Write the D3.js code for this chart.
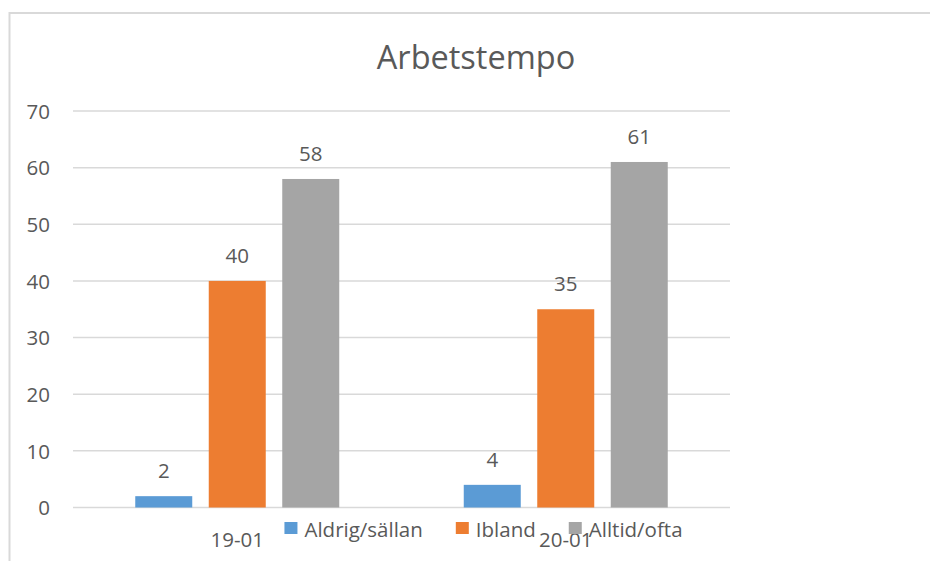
<!DOCTYPE html>
<html>
<head>
<meta charset="utf-8">
<script src="https://cdn.jsdelivr.net/npm/d3@7"></script>
<style>
  html, body { margin: 0; padding: 0; background: #fff; }
  svg { display: block; font-family: "Open Sans", "Noto Sans", sans-serif; }
</style>
</head>
<body>
<svg id="chart" width="930" height="561"></svg>
<script>
// Data
const categories = ["19-01", "20-01"];
const seriesNames = ["Aldrig/sällan", "Ibland", "Alltid/ofta"];
const aldrigSallan = [2, 4];
const ibland = [40, 35];
const alltidOfta = [58, 61];
const yTicks = [0, 10, 20, 30, 40, 50, 60, 70];
const chartTitle = "Arbetstempo";

const seriesValues = [aldrigSallan, ibland, alltidOfta];
const colors = ["#5B9BD5", "#ED7D31", "#A5A5A5"];
const textColor = "#595959";
const gridColor = "#D9D9D9";
const labelSize = 20.5;

const svg = d3.select("#chart");

// Chart frame (left and top edges visible)
svg.append("path")
  .attr("d", "M9.5,561 V13 H930")
  .attr("fill", "none")
  .attr("stroke", gridColor)
  .attr("stroke-width", 2);

// Plot area
const plot = { left: 73, right: 730, top: 111, bottom: 507.5 };

const y = d3.scaleLinear().domain([0, 70]).range([plot.bottom, plot.top]);
const x0 = d3.scaleBand().domain(categories).range([plot.left, plot.right]).padding(0);
const x1 = d3.scaleBand().domain(seriesNames).range([0, x0.bandwidth()])
  .paddingInner(0.2245).paddingOuter(0.847);

// Title
svg.append("text")
  .attr("x", 476)
  .attr("y", 69)
  .attr("text-anchor", "middle")
  .attr("fill", textColor)
  .attr("font-size", 32.5)
  .text(chartTitle);

// Gridlines
svg.append("g")
  .selectAll("line")
  .data(yTicks)
  .join("line")
  .attr("x1", plot.left)
  .attr("x2", plot.right)
  .attr("y1", d => y(d))
  .attr("y2", d => y(d))
  .attr("stroke", gridColor)
  .attr("stroke-width", 1.5);

// Y axis labels
const yAxis = d3.axisLeft(y).tickValues(yTicks).tickSize(0).tickPadding(0);
const yg = svg.append("g")
  .attr("transform", `translate(50,0)`)
  .call(yAxis);
yg.select(".domain").remove();
yg.selectAll("text")
  .attr("fill", textColor)
  .attr("font-size", labelSize)
  .attr("font-family", "Open Sans, sans-serif")
  .attr("dy", "0.35em");

// Bars
const groups = svg.append("g")
  .selectAll("g")
  .data(categories)
  .join("g")
  .attr("transform", d => `translate(${x0(d)},0)`);

groups.each(function(cat, ci) {
  const g = d3.select(this);
  const rows = seriesNames.map((s, si) => ({ s, si, v: seriesValues[si][ci] }));
  g.selectAll("rect")
    .data(rows)
    .join("rect")
    .attr("x", d => x1(d.s))
    .attr("y", d => y(d.v))
    .attr("width", x1.bandwidth())
    .attr("height", d => y(0) - y(d.v))
    .attr("fill", d => colors[d.si]);
  g.selectAll("text.val")
    .data(rows)
    .join("text")
    .attr("class", "val")
    .attr("x", d => x1(d.s) + x1.bandwidth() / 2)
    .attr("y", d => y(d.v) - 18)
    .attr("text-anchor", "middle")
    .attr("fill", textColor)
    .attr("font-size", labelSize)
    .text(d => d.v);
});

// Category labels
const xAxis = d3.axisBottom(x0).tickSize(0).tickPadding(0);
const xg = svg.append("g")
  .call(xAxis);
xg.select(".domain").remove();
xg.selectAll("text")
  .attr("fill", textColor)
  .attr("font-size", labelSize)
  .attr("font-family", "Open Sans, sans-serif")
  .attr("y", 547)
  .attr("dy", 0);

// Legend
const legend = svg.append("g");
const items = legend.selectAll("g")
  .data(seriesNames)
  .join("g");
items.append("rect")
  .attr("width", 13)
  .attr("height", 12)
  .attr("y", 522)
  .attr("fill", (d, i) => colors[i]);
items.append("text")
  .attr("x", 20)
  .attr("y", 537)
  .attr("fill", textColor)
  .attr("font-size", labelSize)
  .text(d => d);
// Lay the legend entries out in a row, centred under the chart
const widths = [];
items.each(function() {
  widths.push(20 + d3.select(this).select("text").node().getComputedTextLength());
});
const spacing = 33;
const total = d3.sum(widths) + spacing * (widths.length - 1);
let cursor = 483.5 - total / 2;
items.attr("transform", (d, i) => {
  const t = `translate(${cursor},0)`;
  cursor += widths[i] + spacing;
  return t;
});
</script>
</body>
</html>
